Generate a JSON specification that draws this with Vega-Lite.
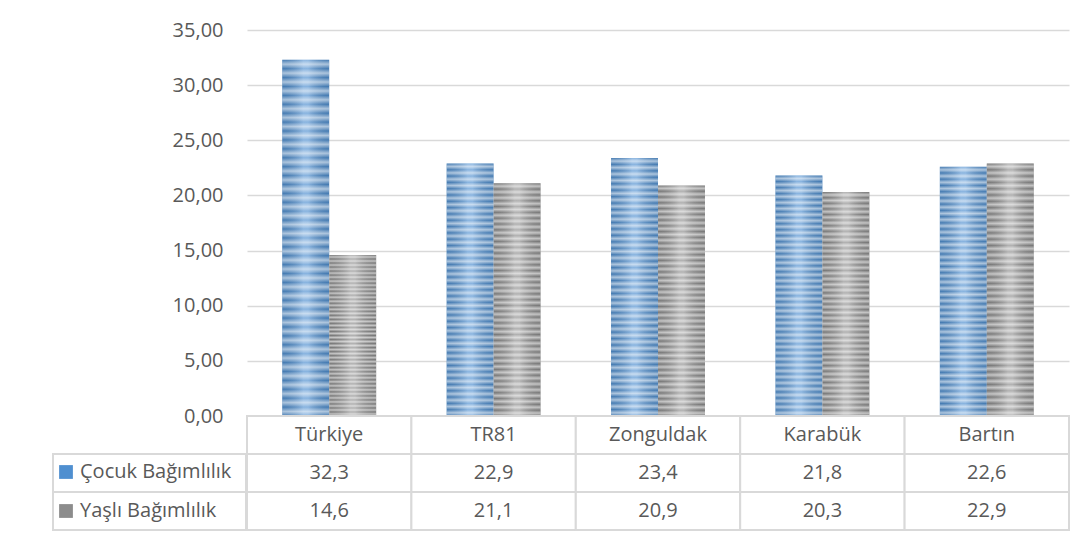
{
  "$schema": "https://vega.github.io/schema/vega-lite/v6.json",
  "background": "white",
  "padding": {"left": 52, "top": 20, "right": 5, "bottom": 5},
  "datasets": {
    "d": [
      {"region": "Türkiye", "series": "Çocuk Bağımlılık", "value": 32.3},
      {"region": "Türkiye", "series": "Yaşlı Bağımlılık", "value": 14.6},
      {"region": "TR81", "series": "Çocuk Bağımlılık", "value": 22.9},
      {"region": "TR81", "series": "Yaşlı Bağımlılık", "value": 21.1},
      {"region": "Zonguldak", "series": "Çocuk Bağımlılık", "value": 23.4},
      {"region": "Zonguldak", "series": "Yaşlı Bağımlılık", "value": 20.9},
      {"region": "Karabük", "series": "Çocuk Bağımlılık", "value": 21.8},
      {"region": "Karabük", "series": "Yaşlı Bağımlılık", "value": 20.3},
      {"region": "Bartın", "series": "Çocuk Bağımlılık", "value": 22.6},
      {"region": "Bartın", "series": "Yaşlı Bağımlılık", "value": 22.9}
    ]
  },
  "config": {
    "view": {"stroke": null},
    "font": "Open Sans",
    "locale": {"number": {"decimal": ",", "thousands": ".", "grouping": [3], "currency": ["", ""]}},
    "legend": {
      "orient": "none", "legendX": 3, "legendY": 432, "title": null,
      "symbolType": "square", "symbolSize": 190, "symbolStrokeWidth": 0, "symbolOpacity": 1,
      "labelFontSize": 20, "labelColor": "#595959", "labelOffset": 4, "rowPadding": 19,
      "padding": 0, "direction": "vertical"
    }
  },
  "spacing": -3,
  "hconcat": [
    {
      "bounds": "flush",
      "spacing": 0,
      "vconcat": [
        {
          "width": 193, "height": 386,
          "data": {"name": "d"},
          "mark": {"type": "point", "opacity": 0},
          "encoding": {
            "y": {"field": "value", "type": "quantitative", "scale": {"domain": [0, 35]},
              "axis": {"values": [0, 5, 10, 15, 20, 25, 30, 35], "format": ".2f", "title": null, "domain": false, "ticks": false,
                "grid": false, "offset": -193, "labelPadding": 23, "labelFontSize": 20, "labelColor": "#595959"}}
          }
        },
        {
          "width": 193, "height": 114,
          "data": {"name": "d"},
          "transform": [{"filter": "datum.region == 'Türkiye'"}],
          "mark": {"type": "rect", "fill": "white", "stroke": "#d9d9d9", "strokeWidth": 2},
          "encoding": {
            "y": {"field": "series", "type": "nominal",
              "scale": {"domain": ["hdr", "Çocuk Bağımlılık", "Yaşlı Bağımlılık"], "paddingInner": 0, "paddingOuter": 0}, "axis": null}
          }
        }
      ]
    },
    {
      "bounds": "flush",
      "spacing": 0,
      "vconcat": [
        {
          "width": 822, "height": 386,
          "data": {"name": "d"},
          "encoding": {
            "x": {"field": "region", "type": "nominal", "sort": null, "scale": {"paddingInner": 0, "paddingOuter": 0}, "axis": null},
            "xOffset": {"field": "series", "type": "nominal", "sort": null, "scale": {"paddingInner": 0, "paddingOuter": 0.75}},
            "y": {"field": "value", "type": "quantitative", "scale": {"domain": [0, 35]},
              "axis": {"values": [0, 5, 10, 15, 20, 25, 30, 35], "title": null, "domain": false, "ticks": false, "labels": false,
                "grid": true, "gridColor": "#d9d9d9", "gridWidth": 1.5}}
          },
          "layer": [
            {"mark": {"type": "bar", "opacity": 1},
             "encoding": {"color": {"field": "series", "type": "nominal", "sort": null,
               "scale": {"domain": ["Çocuk Bağımlılık", "Yaşlı Bağımlılık"], "range": ["#4f8fd0", "#8c8c8c"]}}}},
            {"mark": {"type": "bar", "fill": {"gradient": "linear", "x1": 0, "y1": 0, "x2": 1, "y2": 0,
               "stops": [
                 {"offset": 0, "color": "rgba(0,0,0,0.14)"},
                 {"offset": 0.45, "color": "rgba(255,255,255,0.32)"},
                 {"offset": 0.55, "color": "rgba(255,255,255,0.32)"},
                 {"offset": 1, "color": "rgba(0,0,0,0.14)"}
               ]}}},
            {"mark": {"type": "bar", "fill": {"gradient": "linear", "x1": 0, "y1": 0, "x2": 0, "y2": 1,
               "stops": [
                 {"offset": 0, "color": "rgba(255,255,255,0)"},
                 {"offset": 0.0125, "color": "rgba(255,255,255,0.55)"},
                 {"offset": 0.025, "color": "rgba(255,255,255,0)"},
                 {"offset": 0.0375, "color": "rgba(255,255,255,0.55)"},
                 {"offset": 0.05, "color": "rgba(255,255,255,0)"},
                 {"offset": 0.0625, "color": "rgba(255,255,255,0.55)"},
                 {"offset": 0.075, "color": "rgba(255,255,255,0)"},
                 {"offset": 0.0875, "color": "rgba(255,255,255,0.55)"},
                 {"offset": 0.1, "color": "rgba(255,255,255,0)"},
                 {"offset": 0.1125, "color": "rgba(255,255,255,0.55)"},
                 {"offset": 0.125, "color": "rgba(255,255,255,0)"},
                 {"offset": 0.1375, "color": "rgba(255,255,255,0.55)"},
                 {"offset": 0.15, "color": "rgba(255,255,255,0)"},
                 {"offset": 0.1625, "color": "rgba(255,255,255,0.55)"},
                 {"offset": 0.175, "color": "rgba(255,255,255,0)"},
                 {"offset": 0.1875, "color": "rgba(255,255,255,0.55)"},
                 {"offset": 0.2, "color": "rgba(255,255,255,0)"},
                 {"offset": 0.2125, "color": "rgba(255,255,255,0.55)"},
                 {"offset": 0.225, "color": "rgba(255,255,255,0)"},
                 {"offset": 0.2375, "color": "rgba(255,255,255,0.55)"},
                 {"offset": 0.25, "color": "rgba(255,255,255,0)"},
                 {"offset": 0.2625, "color": "rgba(255,255,255,0.55)"},
                 {"offset": 0.275, "color": "rgba(255,255,255,0)"},
                 {"offset": 0.2875, "color": "rgba(255,255,255,0.55)"},
                 {"offset": 0.3, "color": "rgba(255,255,255,0)"},
                 {"offset": 0.3125, "color": "rgba(255,255,255,0.55)"},
                 {"offset": 0.325, "color": "rgba(255,255,255,0)"},
                 {"offset": 0.3375, "color": "rgba(255,255,255,0.55)"},
                 {"offset": 0.35, "color": "rgba(255,255,255,0)"},
                 {"offset": 0.3625, "color": "rgba(255,255,255,0.55)"},
                 {"offset": 0.375, "color": "rgba(255,255,255,0)"},
                 {"offset": 0.3875, "color": "rgba(255,255,255,0.55)"},
                 {"offset": 0.4, "color": "rgba(255,255,255,0)"},
                 {"offset": 0.4125, "color": "rgba(255,255,255,0.55)"},
                 {"offset": 0.425, "color": "rgba(255,255,255,0)"},
                 {"offset": 0.4375, "color": "rgba(255,255,255,0.55)"},
                 {"offset": 0.45, "color": "rgba(255,255,255,0)"},
                 {"offset": 0.4625, "color": "rgba(255,255,255,0.55)"},
                 {"offset": 0.475, "color": "rgba(255,255,255,0)"},
                 {"offset": 0.4875, "color": "rgba(255,255,255,0.55)"},
                 {"offset": 0.5, "color": "rgba(255,255,255,0)"},
                 {"offset": 0.5125, "color": "rgba(255,255,255,0.55)"},
                 {"offset": 0.525, "color": "rgba(255,255,255,0)"},
                 {"offset": 0.5375, "color": "rgba(255,255,255,0.55)"},
                 {"offset": 0.55, "color": "rgba(255,255,255,0)"},
                 {"offset": 0.5625, "color": "rgba(255,255,255,0.55)"},
                 {"offset": 0.575, "color": "rgba(255,255,255,0)"},
                 {"offset": 0.5875, "color": "rgba(255,255,255,0.55)"},
                 {"offset": 0.6, "color": "rgba(255,255,255,0)"},
                 {"offset": 0.6125, "color": "rgba(255,255,255,0.55)"},
                 {"offset": 0.625, "color": "rgba(255,255,255,0)"},
                 {"offset": 0.6375, "color": "rgba(255,255,255,0.55)"},
                 {"offset": 0.65, "color": "rgba(255,255,255,0)"},
                 {"offset": 0.6625, "color": "rgba(255,255,255,0.55)"},
                 {"offset": 0.675, "color": "rgba(255,255,255,0)"},
                 {"offset": 0.6875, "color": "rgba(255,255,255,0.55)"},
                 {"offset": 0.7, "color": "rgba(255,255,255,0)"},
                 {"offset": 0.7125, "color": "rgba(255,255,255,0.55)"},
                 {"offset": 0.725, "color": "rgba(255,255,255,0)"},
                 {"offset": 0.7375, "color": "rgba(255,255,255,0.55)"},
                 {"offset": 0.75, "color": "rgba(255,255,255,0)"},
                 {"offset": 0.7625, "color": "rgba(255,255,255,0.55)"},
                 {"offset": 0.775, "color": "rgba(255,255,255,0)"},
                 {"offset": 0.7875, "color": "rgba(255,255,255,0.55)"},
                 {"offset": 0.8, "color": "rgba(255,255,255,0)"},
                 {"offset": 0.8125, "color": "rgba(255,255,255,0.55)"},
                 {"offset": 0.825, "color": "rgba(255,255,255,0)"},
                 {"offset": 0.8375, "color": "rgba(255,255,255,0.55)"},
                 {"offset": 0.85, "color": "rgba(255,255,255,0)"},
                 {"offset": 0.8625, "color": "rgba(255,255,255,0.55)"},
                 {"offset": 0.875, "color": "rgba(255,255,255,0)"},
                 {"offset": 0.8875, "color": "rgba(255,255,255,0.55)"},
                 {"offset": 0.9, "color": "rgba(255,255,255,0)"},
                 {"offset": 0.9125, "color": "rgba(255,255,255,0.55)"},
                 {"offset": 0.925, "color": "rgba(255,255,255,0)"},
                 {"offset": 0.9375, "color": "rgba(255,255,255,0.55)"},
                 {"offset": 0.95, "color": "rgba(255,255,255,0)"},
                 {"offset": 0.9625, "color": "rgba(255,255,255,0.55)"},
                 {"offset": 0.975, "color": "rgba(255,255,255,0)"},
                 {"offset": 0.9875, "color": "rgba(255,255,255,0.55)"},
                 {"offset": 1, "color": "rgba(255,255,255,0)"}
               ]}}}
          ]
        },
        {
          "width": 822, "height": 114,
          "data": {"name": "d"},
          "encoding": {
            "x": {"field": "region", "type": "nominal", "sort": null, "scale": {"paddingInner": 0, "paddingOuter": 0}, "axis": null}
          },
          "layer": [
            {
              "mark": {"type": "rect", "fill": "white", "stroke": "#d9d9d9", "strokeWidth": 2},
              "encoding": {
                "y": {"field": "series", "type": "nominal",
                  "scale": {"domain": ["hdr", "Çocuk Bağımlılık", "Yaşlı Bağımlılık"], "paddingInner": 0, "paddingOuter": 0}, "axis": null}
              }
            },
            {
              "transform": [{"filter": "datum.series == 'Çocuk Bağımlılık'"}],
              "mark": {"type": "rect", "fill": "white", "stroke": "#d9d9d9", "strokeWidth": 2},
              "encoding": {"y": {"datum": "hdr", "type": "nominal"}}
            },
            {
              "transform": [{"filter": "datum.series == 'Çocuk Bağımlılık'"}],
              "mark": {"type": "text", "fontSize": 20, "color": "#595959"},
              "encoding": {"y": {"datum": "hdr", "type": "nominal"}, "text": {"field": "region"}}
            },
            {
              "mark": {"type": "text", "fontSize": 20, "color": "#595959"},
              "encoding": {"y": {"field": "series", "type": "nominal"}, "text": {"field": "value", "type": "quantitative", "format": ".1f"}}
            }
          ]
        }
      ]
    }
  ]
}
